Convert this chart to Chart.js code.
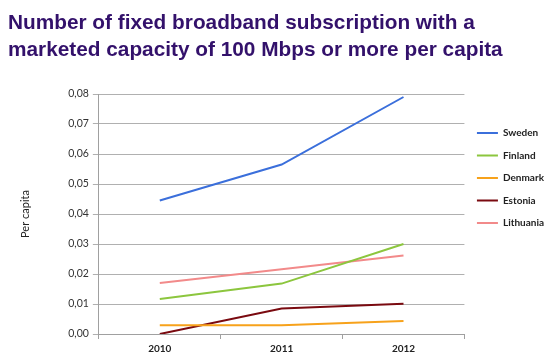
<!DOCTYPE html>
<html>
<head>
<meta charset="utf-8">
<script src="https://cdn.jsdelivr.net/npm/chart.js@4"></script>
<style>
  html, body { margin: 0; padding: 0; background: #fff; }
  #wrap { width: 550px; height: 362px; position: relative; overflow: hidden; }
  #title {
    position: absolute; left: 8px; top: 8px;
    font-family: "Liberation Sans", Arial, sans-serif;
    font-size: 20.8px; font-weight: bold; line-height: 27px;
    color: #33116b; white-space: nowrap;
  }
  #chart { position: absolute; left: 0; top: 0; }
</style>
</head>
<body>
<div id="wrap">
  <canvas id="chart"></canvas>
  <div id="title"></div>
</div>
<script>
var years = ['2010', '2011', '2012'];
var sweden = [0.0445, 0.0565, 0.079];
var finland = [0.0117, 0.0168, 0.030];
var denmark = [0.0029, 0.0029, 0.0043];
var estonia = [0.0, 0.0085, 0.0101];
var lithuania = [0.017, 0.0216, 0.0262];
var titleLines = ['Number of fixed broadband subscription with a', 'marketed capacity of 100 Mbps or more per capita'];

document.getElementById('title').innerHTML = titleLines.join('<br>');

function series(label, data, color) {
    return {
        label: label,
        data: data,
        borderColor: color,
        backgroundColor: color,
        borderWidth: 2,
        pointRadius: 0,
        tension: 0,
        fill: false
    };
}

var font = 'Lato, "Noto Sans", sans-serif';
var ctx = document.getElementById('chart').getContext('2d');
new Chart(ctx, {
    type: 'line',
    data: {
        labels: years,
        datasets: [
            series('Sweden', sweden, '#3b6fdb'),
            series('Finland', finland, '#8cc63e'),
            series('Denmark', denmark, '#f7a21b'),
            series('Estonia', estonia, '#7a0a10'),
            series('Lithuania', lithuania, '#f28a8a')
        ]
    },
    options: {
        responsive: true,
        maintainAspectRatio: false,
        animation: false,
        layout: { padding: { left: 19, right: -4, top: 94, bottom: 3 } },
        plugins: {
            legend: {
                position: 'right',
                align: 'start',
                title: { display: true, text: ' ', font: { size: 10 }, padding: 4.75 },
                labels: {
                    usePointStyle: true,
                    pointStyle: 'line',
                    pointStyleWidth: 21,
                    padding: 12.5,
                    color: '#222',
                    font: { family: font, size: 10, weight: 'bold' }
                }
            },
            tooltip: { enabled: false }
        },
        scales: {
            x: {
                offset: true,
                grid: { offset: true, drawOnChartArea: false, tickLength: 5, color: '#a0a0a0' },
                border: { color: '#a0a0a0' },
                ticks: { color: '#222', padding: 4, font: { family: font, size: 10, weight: 'bold' } }
            },
            y: {
                min: 0,
                max: 0.08,
                ticks: {
                    stepSize: 0.01,
                    color: '#333',
                    padding: 4,
                    font: { family: font, size: 10.5 },
                    callback: function (v) { return v.toFixed(2).replace('.', ','); }
                },
                grid: { color: '#b0b0b0', tickLength: 6 },
                border: { color: '#a0a0a0' },
                title: {
                    display: true,
                    text: 'Per capita',
                    color: '#222',
                    font: { family: font, size: 11 },
                    padding: { top: 0, bottom: 32 }
                }
            }
        }
    }
});
</script>
</body>
</html>
